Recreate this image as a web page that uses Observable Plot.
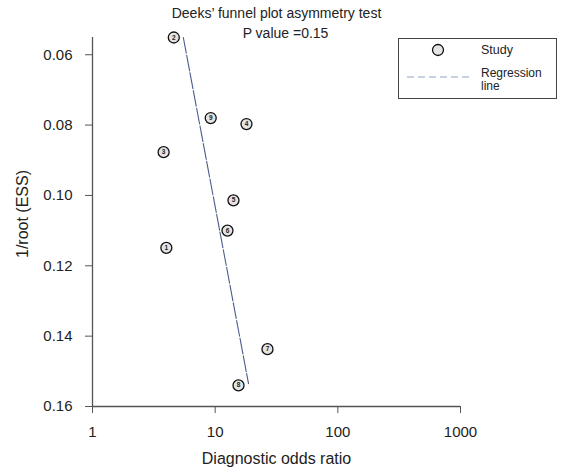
<!DOCTYPE html>
<html>
<head>
<meta charset="utf-8">
<script src="https://cdn.jsdelivr.net/npm/d3@7"></script>
<script src="https://cdn.jsdelivr.net/npm/@observablehq/plot@0.6"></script>
<style>
  html, body { margin: 0; padding: 0; background: white; }
</style>
</head>
<body>
<div id="chart"></div>
<script>
// Study data
const studyIds = [1, 2, 3, 4, 5, 6, 7, 8, 9];
const diagnosticOddsRatio = [4.0, 4.6, 3.8, 18.0, 14.1, 12.6, 26.7, 15.5, 9.2];
const invRootESS = [0.1149, 0.0551, 0.0877, 0.0797, 0.1014, 0.1100, 0.1437, 0.1540, 0.0780];

// Regression line end points
const regX = [5.5, 18.7];
const regY = [0.0551, 0.1535];

// Axes ticks
const xTicks = [1, 10, 100, 1000];
const yTicks = [0.06, 0.08, 0.10, 0.12, 0.14, 0.16];

const titleText = "Deeks\u2019 funnel plot asymmetry test";
const pValueText = "P value =0.15";
const xLabel = "Diagnostic odds ratio";
const yLabel = "1/root (ESS)";

const studies = studyIds.map((id, i) => ({id, dor: diagnosticOddsRatio[i], y: invRootESS[i]}));
const reg = regX.map((x, i) => ({x, y: regY[i]}));

const font = "'Liberation Sans', Arial, Helvetica, sans-serif";
const axisColor = "#555";
const lineColor = "#4b5d8c";

const chart = Plot.plot({
  width: 561,
  height: 473,
  marginLeft: 92,
  marginRight: 101,
  marginTop: 37,
  marginBottom: 67,
  style: {fontFamily: font, fontSize: "15px", color: "#222", background: "white"},
  x: {type: "log", domain: [1, 1000]},
  y: {domain: [0.0551, 0.16], reverse: true},
  marks: [
    Plot.axisX({ticks: xTicks, tickFormat: d3.format("d"), tickSize: 7, tickPadding: 13, label: null, stroke: axisColor, fontSize: 15}),
    Plot.axisY({ticks: yTicks, tickFormat: d3.format(".2f"), tickSize: 7, tickPadding: 13, label: null, stroke: axisColor, fontSize: 15}),
    Plot.ruleX([1], {stroke: axisColor, strokeWidth: 1.3}),
    Plot.ruleY([0.16], {stroke: axisColor, strokeWidth: 1.3}),
    Plot.line(reg, {x: "x", y: "y", stroke: lineColor, strokeWidth: 1.1, strokeDasharray: "16,2"}),
    Plot.dot(studies, {x: "dor", y: "y", r: 5.5, fill: "#e4e4e4", stroke: "#111", strokeWidth: 1.3}),
    Plot.text(studies, {x: "dor", y: "y", text: d => String(d.id), fontSize: 6.5, fill: "#222", fontWeight: "bold"}),
    Plot.text([titleText], {frameAnchor: "top", lineAnchor: "middle", textAnchor: "middle", dy: -24, fontSize: 14, fill: "#222"}),
    Plot.text([pValueText], {frameAnchor: "top", lineAnchor: "middle", textAnchor: "middle", dx: 9, dy: -4, fontSize: 14, fill: "#222"}),
    Plot.text([xLabel], {frameAnchor: "bottom", lineAnchor: "middle", textAnchor: "middle", dy: 52, fontSize: 16, fill: "#222"}),
    Plot.text([yLabel], {frameAnchor: "left", lineAnchor: "middle", textAnchor: "middle", dx: -70, dy: -8, rotate: -90, fontSize: 16, fill: "#222"})
  ]
});

// Legend (drawn in the right margin)
const svg = d3.select(chart);
const lg = svg.append("g").attr("font-family", font).attr("fill", "#222").attr("text-anchor", "start");
lg.append("rect").attr("x", 398.5).attr("y", 38.5).attr("width", 158).attr("height", 60)
  .attr("fill", "white").attr("stroke", "#444").attr("stroke-width", 1);
lg.append("circle").attr("cx", 438).attr("cy", 50).attr("r", 5.5)
  .attr("fill", "#e4e4e4").attr("stroke", "#111").attr("stroke-width", 1.3);
lg.append("text").attr("x", 481).attr("y", 50).attr("dy", "0.35em").attr("font-size", 12.5).text("Study");
lg.append("line").attr("x1", 407).attr("x2", 472).attr("y1", 77).attr("y2", 77)
  .attr("stroke", "#8ea3c6").attr("stroke-width", 1.2).attr("stroke-dasharray", "7,4");
lg.append("text").attr("x", 481).attr("y", 72.5).attr("dy", "0.35em").attr("font-size", 12).text("Regression");
lg.append("text").attr("x", 481).attr("y", 86).attr("dy", "0.35em").attr("font-size", 12).text("line");

document.getElementById("chart").appendChild(chart);
</script>
</body>
</html>
